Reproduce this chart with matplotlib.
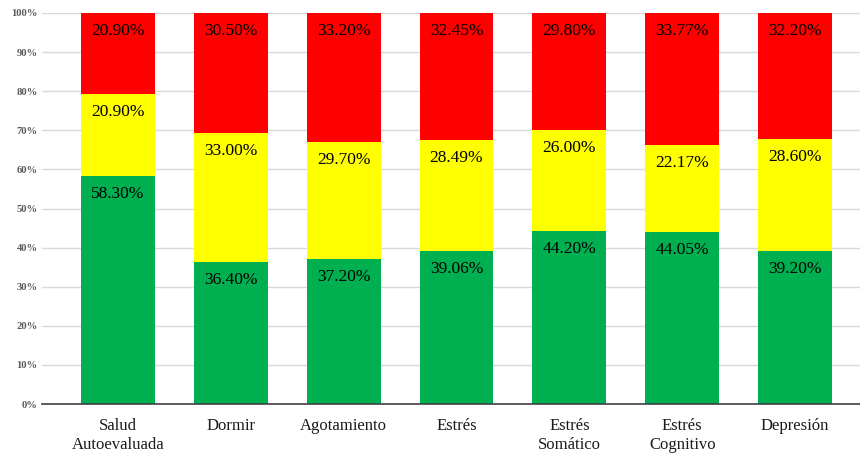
import numpy as np
import matplotlib.pyplot as plt
from matplotlib.ticker import PercentFormatter

# Distribución por dimensión (verde / amarillo / rojo)
categorias = ['Salud\nAutoevaluada', 'Dormir', 'Agotamiento', 'Estrés',
              'Estrés\nSomático', 'Estrés\nCognitivo', 'Depresión']
verde = [58.30, 36.40, 37.20, 39.06, 44.20, 44.05, 39.20]
amarillo = [20.90, 33.00, 29.70, 28.49, 26.00, 22.17, 28.60]
rojo = [20.90, 30.50, 33.20, 32.45, 29.80, 33.77, 32.20]

plt.rcParams['font.family'] = ['Liberation Serif', 'DejaVu Serif']

fig = plt.figure(figsize=(8.6, 4.54), dpi=100)
ax = fig.add_axes([0.0488, 0.110, 0.9512, 0.8614])

x = np.arange(len(categorias))
ancho = 0.655
colores = ['#00B050', '#FFFF00', '#FF0000']

base = np.zeros(len(categorias))
for serie, color in zip([verde, amarillo, rojo], colores):
    vals = np.array(serie)
    # total 100% por columna
    ax.bar(x, vals, ancho, bottom=base, color=color, zorder=3)
    for xi, b, v in zip(x, base, vals):
        top = min(b + v, 100)
        ax.annotate(f'{v:.2f}%', (xi, top), xytext=(0, -13),
                    textcoords='offset points', ha='center', va='center',
                    fontsize=12.5, color='black', zorder=4)
    base += vals

ax.set_xlim(-0.673, 6.575)
ax.set_ylim(0, 100)
ax.set_yticks(np.arange(0, 101, 10))
ax.yaxis.set_major_formatter(PercentFormatter(decimals=0))
ax.set_xticks(x)
ax.set_xticklabels(categorias, fontsize=12, color='#1a1a1a', linespacing=1.25)

for lab in ax.get_yticklabels():
    lab.set_fontsize(7.6)
    lab.set_fontweight('bold')
    lab.set_color('#595959')

ax.grid(axis='y', color='#d9d9d9', linewidth=1, zorder=0)
for s in ['top', 'right', 'left']:
    ax.spines[s].set_visible(False)
ax.spines['bottom'].set_color('#404040')
ax.spines['bottom'].set_linewidth(1.2)
ax.spines['bottom'].set_zorder(5)
ax.tick_params(axis='both', length=0)
ax.tick_params(axis='x', pad=10)
ax.tick_params(axis='y', pad=3)

fig.savefig('out.png', dpi=100)
